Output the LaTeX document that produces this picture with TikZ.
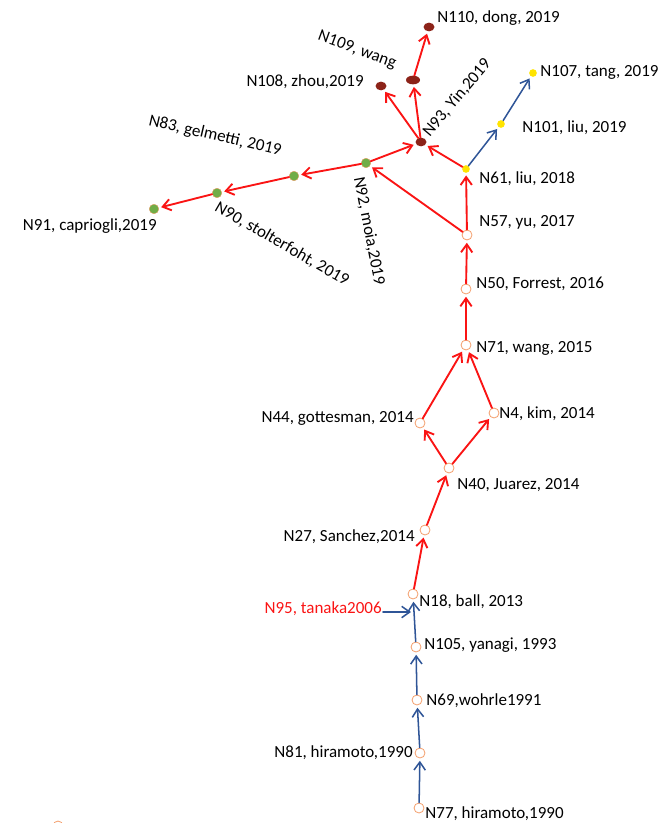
\documentclass[tikz,border=0pt]{standalone}
\usepackage{fontspec}
\setmainfont{Carlito}
\usepackage{tikz}
\usetikzlibrary{arrows.meta,shapes.geometric}

\definecolor{redline}{RGB}{250,20,20}
\definecolor{blueline}{RGB}{47,85,151}
\definecolor{oldnode}{RGB}{244,160,110}
\definecolor{greennode}{RGB}{112,173,71}
\definecolor{darkrednode}{RGB}{140,35,25}
\definecolor{yellownode}{RGB}{255,228,0}

\tikzset{
  opennode/.style={circle, draw=oldnode, fill=white, line width=0.7pt, minimum size=0.3cm, inner sep=0pt},
  greennd/.style={circle, draw=oldnode, fill=greennode, line width=0.3pt, minimum size=0.29cm, inner sep=0pt},
  darkrednd/.style={ellipse, fill=darkrednode, minimum width=0.33cm, minimum height=0.26cm, inner sep=0pt},
  yellownd/.style={circle, fill=yellownode, minimum size=0.23cm, inner sep=0pt},
  lbl/.style={font=\fontsize{14.5}{16}\selectfont, inner sep=1pt},
  redarrow/.style={draw=redline, line width=1.6pt, shorten >=2pt, -{Straight Barb[length=2.4mm,width=3.4mm]}},
  bluearrow/.style={draw=blueline, line width=1.3pt, shorten >=2pt, -{Straight Barb[length=2.4mm,width=3.4mm]}}
}

\begin{document}
\begin{tikzpicture}[line cap=round,line join=round,x=0.03cm,y=-0.03cm]
\useasboundingbox (0,0) rectangle (664,823);

% nodes
\node[darkrednd] (n110) at (429,27) {};
\node[darkrednd, minimum width=0.42cm] (n109) at (413,80) {};
\node[darkrednd] (n108) at (381,86) {};
\node[darkrednd] (n93) at (421,142) {};
\node[greennd] (n92) at (366,163) {};
\node[greennd] (n83) at (294,176) {};
\node[greennd] (n90) at (217,193) {};
\node[greennd] (n91) at (154,209) {};
\node[yellownd] (n61) at (466,169) {};
\node[yellownd] (n101) at (501,124) {};
\node[yellownd] (n107) at (533,73) {};
\node[opennode] (n57) at (467,235) {};
\node[opennode] (n50) at (466,289) {};
\node[opennode] (n71) at (466,345) {};
\node[opennode] (n44) at (420,423) {};
\node[opennode] (n4) at (494,413) {};
\node[opennode] (n40) at (449,468) {};
\node[opennode] (n27) at (425,530) {};
\node[opennode] (n18) at (413,594) {};
\node[opennode] (n105) at (416,647) {};
\node[opennode] (n69) at (417,700) {};
\node[opennode] (n81) at (420,753) {};
\node[opennode] (n77) at (419,808) {};
\node[opennode] (nstray) at (58,826) {};

% labels
\node[lbl, anchor=west] (n110l) at (436,18) {N110, dong, 2019};
\node[lbl, rotate=-20] (n109l) at (357,50) {N109, wang};
\node[lbl, anchor=east] (n108l) at (365,82) {N108, zhou,2019};
\node[lbl, rotate=50] (n93l) at (457,98) {N93, Yin,2019};
\node[lbl, rotate=-79] (n92l) at (369,231) {N92, moia,2019};
\node[lbl, rotate=-13] (n83l) at (215,136) {N83, gelmetti, 2019};
\node[lbl, rotate=-30] (n90l) at (282,244) {N90, stolterfoht, 2019};
\node[lbl, anchor=east] (n91l) at (158,226) {N91, capriogli,2019};
\node[lbl, anchor=west] (n107l) at (539,72) {N107, tang, 2019};
\node[lbl, anchor=west] (n101l) at (521,128) {N101, liu, 2019};
\node[lbl, anchor=west] (n61l) at (478,179) {N61, liu, 2018};
\node[lbl, anchor=west] (n57l) at (478,222) {N57, yu, 2017};
\node[lbl, anchor=west] (n50l) at (475,284) {N50, Forrest, 2016};
\node[lbl, anchor=west] (n71l) at (475,348) {N71, wang, 2015};
\node[lbl, anchor=east] (n44l) at (415,418) {N44, gottesman, 2014};
\node[lbl, anchor=west] (n4l) at (498,414) {N4, kim, 2014};
\node[lbl, anchor=west] (n40l) at (456,485) {N40, Juarez, 2014};
\node[lbl, anchor=east] (n27l) at (416,537) {N27, Sanchez,2014};
\node[lbl, anchor=west] (n18l) at (418,602) {N18, ball, 2013};
\node[lbl, anchor=east, text=redline] (n95l) at (383,609) {N95, tanaka2006};
\node[lbl, anchor=west] (n105l) at (423,645) {N105, yanagi, 1993};
\node[lbl, anchor=west] (n69l) at (425,701) {N69,wohrle1991};
\node[lbl, anchor=east] (n81l) at (414,753) {N81, hiramoto,1990};
\node[lbl, anchor=west] (n77l) at (424,814) {N77, hiramoto,1990};

\coordinate (n95tip) at (411,612);

% blue edges
\draw[bluearrow] (n77) -- (n81);
\draw[bluearrow] (n81) -- (n69);
\draw[bluearrow] (n69) -- (n105);
\draw[bluearrow] (n105) -- (n18);
\draw[bluearrow, shorten >=0pt] (n95l.east |- n95tip) -- (n95tip);
\draw[bluearrow] (n61) -- (n101);
\draw[bluearrow] (n101) -- (n107);

% red edges
\draw[redarrow] (n18) -- (n27);
\draw[redarrow] (n27) -- (n40);
\draw[redarrow] (n40) -- (n44);
\draw[redarrow] (n40) -- (n4);
\draw[redarrow] (n44) -- (n71);
\draw[redarrow] (n4) -- (n71);
\draw[redarrow] (n71) -- (n50);
\draw[redarrow] (n50) -- (n57);
\draw[redarrow] (n57) -- (n61);
\draw[redarrow] (n57) -- (n92);
\draw[redarrow] (n61) -- (n93);
\draw[redarrow] (n92) -- (n93);
\draw[redarrow] (n92) -- (n83);
\draw[redarrow] (n83) -- (n90);
\draw[redarrow] (n90) -- (n91);
\draw[redarrow] (n93) -- (n108);
\draw[redarrow] (n93) -- (n109);
\draw[redarrow] (n109) -- (n110);

\end{tikzpicture}
\end{document}
